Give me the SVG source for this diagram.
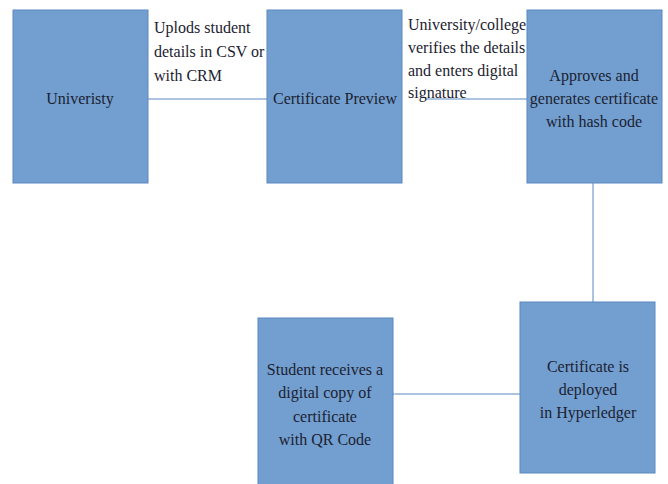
<svg xmlns="http://www.w3.org/2000/svg" width="668" height="484" viewBox="0 0 668 484">
<style>
.box{fill:#729fd0;stroke:#5a88c0;stroke-width:1}
text{font-family:'Liberation Serif','DejaVu Serif',serif;font-size:16px;fill:#1c2230}
.c{text-anchor:middle}
.ln{stroke:#5b89c2;stroke-width:1;fill:none}
</style>
<defs>
<marker id="ah" markerWidth="8" markerHeight="8" refX="1" refY="4" orient="auto" markerUnits="userSpaceOnUse">
<path d="M6,1.5 L1,4 L6,6.5 Z" fill="#5b89c2"/>
</marker>
</defs>
<rect width="668" height="484" fill="#ffffff"/>
<g id="connectors">
<line class="ln" x1="148" y1="99" x2="283" y2="99"/>
<line class="ln" x1="425" y1="99" x2="538" y2="99"/>
<line class="ln" x1="593" y1="183" x2="593" y2="302"/>
<line class="ln" x1="520" y1="394" x2="395" y2="394" marker-end="url(#ah)"/>
</g>
<g id="university">
<rect class="box" x="13" y="10" width="135" height="173"/>
<text class="c" x="80" y="104">Univeristy</text>
</g>
<g id="preview">
<rect class="box" x="267" y="10" width="135" height="173"/>
<text class="c" x="335" y="104">Certificate Preview</text>
</g>
<g id="approves">
<rect class="box" x="527" y="10" width="135" height="173"/>
<text class="c" x="594" y="81">Approves and</text>
<text class="c" x="594" y="104">generates certificate</text>
<text class="c" x="594" y="127">with hash code</text>
</g>
<g id="deployed">
<rect class="box" x="520" y="302" width="135" height="171"/>
<text class="c" x="588" y="372">Certificate is</text>
<text class="c" x="588" y="395">deployed</text>
<text class="c" x="588" y="418">in Hyperledger</text>
</g>
<g id="student">
<rect class="box" x="258" y="318" width="135" height="170"/>
<text class="c" x="325" y="375">Student receives a</text>
<text class="c" x="325" y="398">digital copy of</text>
<text class="c" x="325" y="422">certificate</text>
<text class="c" x="325" y="445">with QR Code</text>
</g>
<g id="labels">
<text x="154" y="33">Uplods student</text>
<text x="154" y="57">details in CSV or</text>
<text x="154" y="81">with CRM</text>
<text x="408" y="30">University/college</text>
<text x="408" y="53">verifies the details</text>
<text x="408" y="76">and enters digital</text>
<text x="408" y="98">signature</text>
</g>
</svg>
